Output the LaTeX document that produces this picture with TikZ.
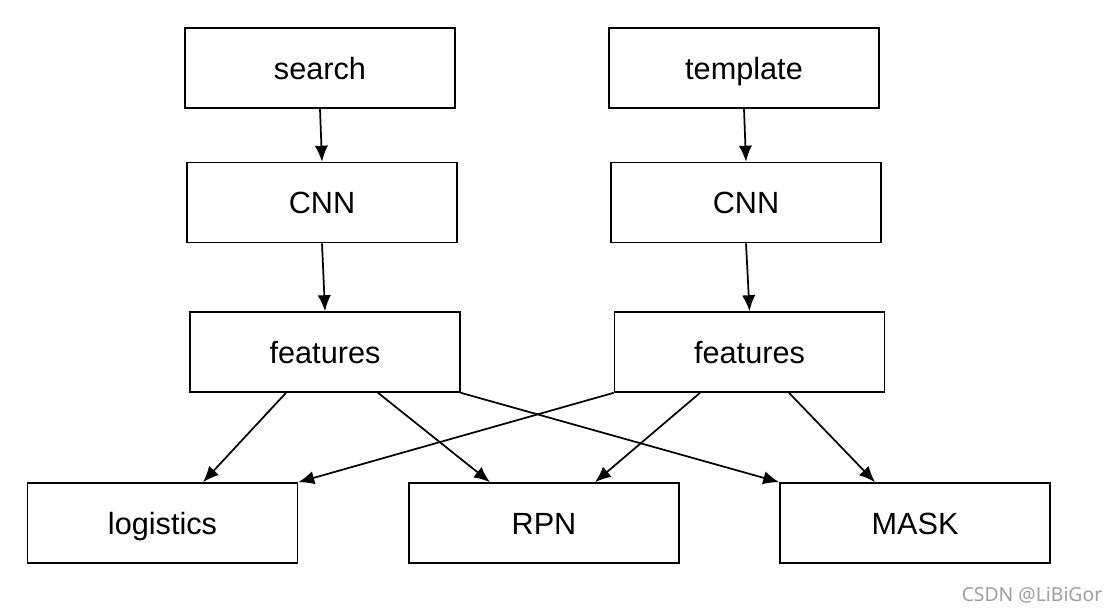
\documentclass[tikz,border=0pt]{standalone}
\usepackage{fontspec}
\setmainfont{Liberation Sans}
\newfontfamily\wmfont{Noto Sans}
\usetikzlibrary{arrows.meta}
\begin{document}
\begin{tikzpicture}[x=0.75pt,y=-0.75pt,
  box/.style={draw=black,line width=1.2pt,minimum width=202.5pt,minimum height=60pt,inner sep=0pt,
    font=\fontsize{23}{27}\selectfont,text height=16.5pt,text depth=0pt},
  conn/.style={line width=1.3pt,-{Latex[length=12pt,width=10pt]}},
  wm/.style={font=\wmfont\fontsize{14.5}{17}\selectfont,text=black!38}]
\useasboundingbox[fill=white] (0,0) rectangle (1116,612);
\node[box] (search) at (320,68) {search};
\node[box] (template) at (744,68) {template};
\node[box] (cnnL) at (322,202.5) {CNN};
\node[box] (cnnR) at (746,202.5) {CNN};
\node[box] (featL) at (325,352) {features};
\node[box] (featR) at (749.5,352) {features};
\node[box] (lg) at (162.5,523) {logistics};
\node[box] (rpn) at (544,523) {RPN};
\node[box] (mask) at (915,523) {MASK};
\node[wm] (wmk) at (1032,595) {CSDN @LiBiGor};
\draw[conn] (search.south) -- (cnnL.north);
\draw[conn] (template.south) -- (cnnR.north);
\draw[conn] (cnnL.south) -- (featL.north);
\draw[conn] (cnnR.south) -- (featR.north);
\draw[conn] ([xshift=-29.25pt]featL.south) -- ([xshift=30.4pt]lg.north);
\draw[conn] ([xshift=39.75pt]featL.south) -- ([xshift=-40.5pt]rpn.north);
\draw[conn] (featL.south east) -- (mask.north west);
\draw[conn] (featR.south west) -- (lg.north east);
\draw[conn] ([xshift=-37.1pt]featR.south) -- ([xshift=38.25pt]rpn.north);
\draw[conn] ([xshift=29.6pt]featR.south) -- ([xshift=-30pt]mask.north);
\end{tikzpicture}
\end{document}
